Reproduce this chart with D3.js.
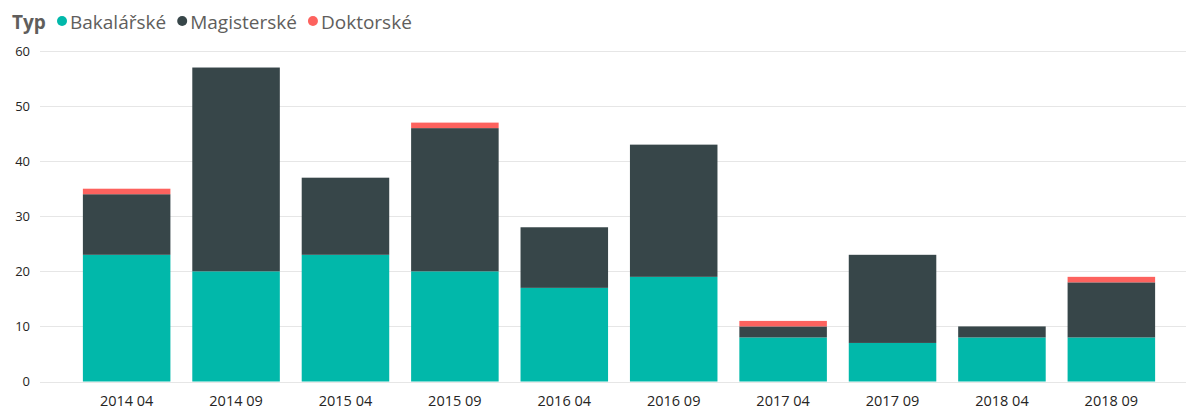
<!DOCTYPE html>
<html>
<head>
<meta charset="utf-8">
<script src="https://cdn.jsdelivr.net/npm/d3@7"></script>
<style>
  body { margin: 0; background: #fff; }
  svg { display: block; font-family: 'Open Sans', 'DejaVu Sans', sans-serif; }
</style>
</head>
<body>
<svg id="chart" width="1186" height="409"></svg>
<script>
const periods = ['2014 04', '2014 09', '2015 04', '2015 09', '2016 04', '2016 09', '2017 04', '2017 09', '2018 04', '2018 09']
const bakalarske = [23, 20, 23, 20, 17, 19, 8, 7, 8, 8]
const magisterske = [11, 37, 14, 26, 11, 24, 2, 16, 2, 10]
const doktorske = [1, 0, 0, 1, 0, 0, 1, 0, 0, 1]
const seriesNames = ['Bakalářské', 'Magisterské', 'Doktorské']
const seriesColors = ['#01B8AA', '#374649', '#FD625E']
const yTicks = [0, 10, 20, 30, 40, 50, 60]

const width = 1186
const height = 409
const margin = { top: 51, right: 9, bottom: 27, left: 61 }

const svg = d3.select('#chart')

const rows = periods.map((p, i) => ({
  period: p,
  [seriesNames[0]]: bakalarske[i],
  [seriesNames[1]]: magisterske[i],
  [seriesNames[2]]: doktorske[i]
}))

const stacked = d3.stack().keys(seriesNames)(rows)

const x = d3.scaleBand()
  .domain(periods)
  .range([margin.left, width - margin.right])
  .paddingInner(0.2)
  .paddingOuter(0.2)

const y = d3.scaleLinear()
  .domain([0, 60])
  .range([height - margin.bottom - 0.5, margin.top])

// gridlines
svg.append('g')
  .selectAll('line')
  .data(yTicks)
  .join('line')
  .attr('x1', 40)
  .attr('x2', width)
  .attr('y1', d => Math.round(y(d)) + 0.5)
  .attr('y2', d => Math.round(y(d)) + 0.5)
  .attr('stroke', '#e6e6e6')
  .attr('stroke-width', 1)

// y labels
svg.append('g')
  .selectAll('text')
  .data(yTicks)
  .join('text')
  .attr('x', 30)
  .attr('y', d => y(d))
  .attr('dy', '0.35em')
  .attr('text-anchor', 'end')
  .attr('font-size', 13)
  .attr('fill', '#252423')
  .text(d => d)

// bars
svg.append('g')
  .selectAll('g')
  .data(stacked)
  .join('g')
  .attr('fill', (d, i) => seriesColors[i])
  .selectAll('rect')
  .data(d => d.filter(s => s[1] > s[0]))
  .join('rect')
  .attr('x', d => x(d.data.period))
  .attr('width', x.bandwidth())
  .attr('y', d => y(d[1]))
  .attr('height', d => y(d[0]) - y(d[1]))

// x labels
svg.append('g')
  .selectAll('text')
  .data(periods)
  .join('text')
  .attr('x', d => x(d) + x.bandwidth() / 2)
  .attr('y', 406)
  .attr('text-anchor', 'middle')
  .attr('font-size', 14.5)
  .attr('fill', '#252423')
  .text(d => d)

// legend
const legend = svg.append('g').attr('transform', 'translate(12, 29)')
legend.append('text')
  .attr('font-size', 19)
  .attr('font-weight', 'bold')
  .attr('fill', '#605E5C')
  .text('Typ')

let lx = 50
seriesNames.forEach((name, i) => {
  legend.append('circle')
    .attr('cx', lx)
    .attr('cy', -8)
    .attr('r', 5)
    .attr('fill', seriesColors[i])
  const t = legend.append('text')
    .attr('x', lx + 8)
    .attr('font-size', 19)
    .attr('fill', '#605E5C')
    .text(name)
  lx += 8 + t.node().getComputedTextLength() + 16
})
</script>
</body>
</html>
